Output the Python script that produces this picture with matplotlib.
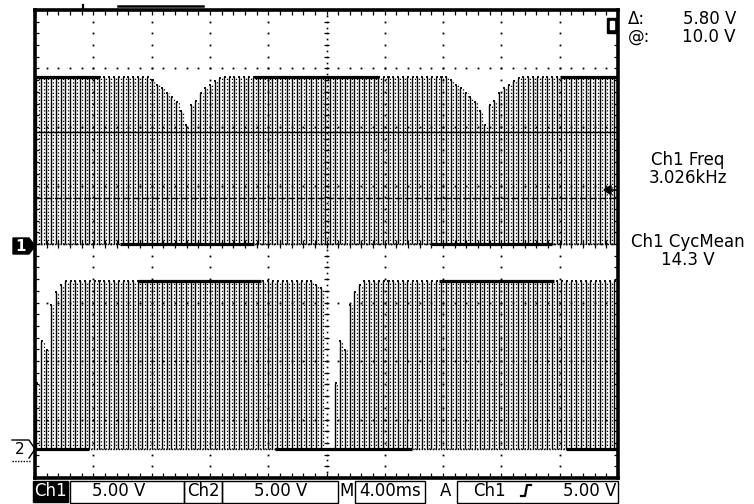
import numpy as np
import matplotlib.pyplot as plt
from matplotlib.collections import LineCollection
from matplotlib.patches import Polygon, Rectangle

# scope settings
volts_per_div = 5.0
ms_per_div = 4.0
ch1_freq_khz = 3.026

# trace levels (V, drawn on the ch1 scale)
ch1_ground = 0.0
ch2_ground = -17.5
pulse_high = 14.3

# envelope dips: reference time (ms) of pulse `mid` and pulse heights around it (V)
ch1_dip_centres = [10.4, 30.8]
ch1_dip_heights = [14.0, 13.6, 13.3, 12.9, 12.6, 12.1, 11.4, 10.2, 11.9, 12.2, 12.9, 13.3, 13.6, 13.9, 14.2]
ch1_dip_mid = 7
ch2_dip_centres = [0.2, 20.6]
ch2_dip_heights = [14.0, 13.7, 0, 0, 5.6, 9.2, 8.4, 12.3, 13.4, 14.0]
ch2_dip_mid = 4

# stretches where the trace lies on one level (ms)
ch1_high_spans = [(0, 4.4), (15.0, 23.6), (36.0, 40)]
ch1_low_spans = [(5.8, 15.0), (27.2, 35.5)]
ch2_high_spans = [(7.1, 15.5), (27.7, 35.6)]
ch2_low_spans = [(0, 3.7), (16.5, 25.9), (36.4, 40)]

# cursors (V)
cursor_solid = 9.6
cursor_dashed = 3.9

W, H = 754, 504
fig = plt.figure(figsize=(W / 100, H / 100), dpi=100)
fig.patch.set_facecolor('white')

# screen area in pixels: x 35..618, y 10..478
ax = fig.add_axes([35 / W, (H - 478) / H, 583 / W, 468 / H])
ax.set_xlim(0, 10 * ms_per_div)
ax.set_ylim(-4 * volts_per_div, 4 * volts_per_div)
ax.set_xticks([])
ax.set_yticks([])
for s in ax.spines.values():
    s.set_linewidth(2.6)
    s.set_color('black')

# graticule
xmaj = np.arange(0, 40.01, ms_per_div)
ymaj = np.arange(-20, 20.01, volts_per_div)
xmin = np.arange(0, 40.01, ms_per_div / 5)
ymin = np.arange(-20, 20.01, volts_per_div / 5)
dx, dy = [], []
for x in xmaj[1:-1]:
    if x == 20:
        continue
    dx += [x] * len(ymin)
    dy += list(ymin)
for y in ymaj[1:-1]:
    if y == 0:
        continue
    dx += list(xmin)
    dy += [y] * len(xmin)
ax.plot(dx, dy, ls='none', marker='s', ms=1.3, mew=0, color='black', zorder=2)

ticks = []
for y in ymin:
    ticks.append([(20 - 0.15, y), (20 + 0.15, y)])
    ticks.append([(0, y), (0.3, y)])
    ticks.append([(40 - 0.3, y), (40, y)])
for x in xmin:
    ticks.append([(x, -0.35), (x, 0.35)])
    ticks.append([(x, 20), (x, 19.6)])
    ticks.append([(x, -20), (x, -19.6)])
ax.add_collection(LineCollection(ticks, colors='black', linewidths=0.9, zorder=2))
cy = np.arange(-20, 20.01, 0.5)
ax.plot(np.full(len(cy), 20.0), cy, ls='none', marker='s', ms=1.2, mew=0,
        color='black', zorder=2)
cx = np.arange(0, 40.01, 0.4)
ax.plot(cx, np.zeros(len(cx)), ls='none', marker='s', ms=1.2, mew=0,
        color='black', zorder=2)

# pulse train at the measured frequency
period = 1.0 / ch1_freq_khz
t_pulse = np.arange(0.1, 40, period)


def pulse_heights(centres, profile, mid):
    h = np.full(len(t_pulse), pulse_high)
    prof = np.array(profile, dtype=float)
    for c in centres:
        idx = np.round((t_pulse - c) / period).astype(int) + mid
        inside = (idx >= 0) & (idx < len(prof))
        h[inside] = prof[idx[inside]]
    return h


def draw_channel(ground, h, high_spans, low_spans):
    rise, fall, caps = [], [], []
    for t, v in zip(t_pulse, h):
        if v <= 0:
            continue
        rise.append([(t, ground), (t, ground + v)])
        tf = t + period / 2
        if tf < 40:
            fall.append([(tf, ground), (tf, ground + v)])
        caps.append([(t - 0.04, ground + v), (t + 0.1, ground + v)])
    ax.add_collection(LineCollection(rise, colors='black', linewidths=1.0, zorder=3))
    ax.add_collection(LineCollection(fall, colors='black', linewidths=0.9,
                                     linestyles=(0, (1.0, 1.8)), zorder=3))
    ax.add_collection(LineCollection(caps, colors='black', linewidths=1.3, zorder=3))
    ax.plot([0, 40], [ground, ground], color='black', lw=1.0, ls=(0, (1, 1)), zorder=3)
    for a, b in high_spans:
        ax.plot([a, b], [ground + pulse_high, ground + pulse_high], color='black',
                lw=2.3, solid_capstyle='butt', zorder=4)
    for a, b in low_spans:
        ax.plot([a, b], [ground, ground], color='black', lw=2.3,
                solid_capstyle='butt', zorder=4)


draw_channel(ch1_ground, pulse_heights(ch1_dip_centres, ch1_dip_heights, ch1_dip_mid),
             ch1_high_spans, ch1_low_spans)
draw_channel(ch2_ground, pulse_heights(ch2_dip_centres, ch2_dip_heights, ch2_dip_mid),
             ch2_high_spans, ch2_low_spans)

# cursors
ax.axhline(cursor_solid, color='black', lw=1.0, zorder=5)
ax.axhline(cursor_dashed, color='black', lw=1.0, ls=(0, (5, 2)), zorder=5)

# overlay in pixel units for the readouts and markers
ov = fig.add_axes([0, 0, 1, 1])
ov.set_xlim(0, W)
ov.set_ylim(H, 0)
ov.axis('off')
ov.patch.set_alpha(0)

fs = 12
font = dict(fontsize=fs, family='DejaVu Sans', color='black', va='center',
            linespacing=0.95)

# ground markers
ov.add_patch(Polygon([(13, 238), (29, 238), (35, 246), (29, 254), (13, 254)],
                     closed=True, color='black'))
ov.text(20.5, 246.5, '1', ha='center', color='white', fontsize=11, fontweight='bold',
        va='center')
ov.plot([12, 29, 35, 29], [440, 440, 449, 458], color='black', lw=1.0)
ov.plot([12, 30], [461, 461], color='black', lw=1.0, ls=(0, (1, 1)))
ov.text(20, 450, '2', ha='center', fontsize=11, va='center')

# trigger level arrow and trigger marker
ov.add_patch(Polygon([(604, 190), (611, 185.5), (611, 194.5)], closed=True, color='black'))
ov.plot([611, 617], [190, 190], color='black', lw=1.2)
ov.add_patch(Rectangle((607, 18), 9, 15, color='black'))
ov.add_patch(Rectangle((609.5, 21), 4, 8, color='white'))
ov.plot([118, 203], [6, 6], color='black', lw=1.8)
ov.plot([83, 83], [4.5, 7.5], color='black', lw=1.6)

# measurement readouts
ov.text(628, 28, '\u0394:\n@:', ha='left', multialignment='left', **font)
ov.text(736, 28, '5.80 V\n10.0 V', ha='right', multialignment='right', **font)
ov.text(688, 169, 'Ch1 Freq\n3.026kHz', ha='center', multialignment='center', **font)
ov.text(688, 251, 'Ch1 CycMean\n14.3 V', ha='center', multialignment='center', **font)

# status bar
ov.add_patch(Rectangle((33, 481), 35, 21, color='black'))
ov.text(50.5, 491, 'Ch1', ha='center', fontsize=fs, color='white', va='center')
for x0, w in [(70, 114), (184, 38), (222, 116), (355, 70), (457, 161)]:
    ov.add_patch(Rectangle((x0, 481), w, 22, fill=False, edgecolor='black', lw=1.0))
ov.text(119, 491, '5.00 V', ha='center', **font)
ov.text(203, 491, 'Ch2', ha='center', **font)
ov.text(281, 491, '5.00 V', ha='center', **font)
ov.text(347, 491, 'M', ha='center', **font)
ov.text(390, 491, '4.00ms', ha='center', **font)
ov.text(446, 491, 'A', ha='center', **font)
ov.text(489, 491, 'Ch1', ha='center', **font)
ov.plot([521, 525, 527, 531], [496, 496, 485, 485], color='black', lw=1.6)
ov.text(590, 491, '5.00 V', ha='center', **font)

fig.savefig('out.png', dpi=100, facecolor='white')
